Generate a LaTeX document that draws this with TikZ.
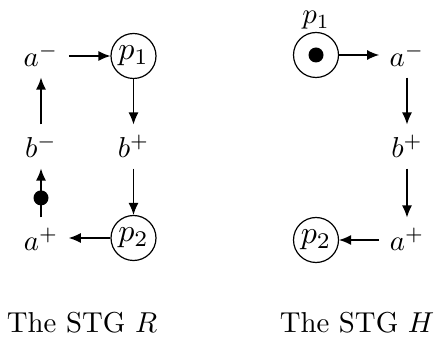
\documentclass[tikz,border=0pt]{standalone}
\usepackage{graphicx}
\usetikzlibrary{arrows.meta}

% 文字按 10pt 排，再整体放大（圆内的字更大一些）
\newcommand{\tx}[1]{\scalebox{2.88}{#1}}
\newcommand{\txp}[1]{\scalebox{3.2}{#1}}

\tikzset{
  trans/.style={inner sep=10pt, anchor=base},
  place/.style={draw, circle, minimum size=45pt, inner sep=0pt},
  token/.style={fill, circle, minimum size=15pt, inner sep=0pt},
  arc/.style={-{Latex[length=12pt,width=10pt]}},
}

\begin{document}
\begin{tikzpicture}[x=1pt, y=-1pt, line width=1.2pt]

  %% ════ 左图：STG R ════
  \node[trans] (Ram) at (41,67)    {\tx{$a^-$}};
  \node[place] (Rp1) at (133.5,56) {\txp{$p_1$}};
  \node[trans] (Rbm) at (41,158)   {\tx{$b^-$}};
  \node[trans] (Rbp) at (133.5,158) {\tx{$b^+$}};
  \node[trans] (Rap) at (41,251)   {\tx{$a^+$}};
  \node[place] (Rp2) at (133.5,238) {\txp{$p_2$}};

  \draw[arc] (Ram.east |- Rp1) -- (Rp1);
  \draw[arc] (Rp1) -- (Rbp);
  \draw[arc] (Rbp) -- (Rp2);
  \draw[arc] (Rp2) -- (Rap.east |- Rp2);
  \draw[arc] (Rap) -- node[token, pos=0.4] (Rtok) {} (Rbm);   % 弧上的 token
  \draw[arc] (Rbm) -- (Ram);

  %% ════ 右图：STG H ════
  \node[place, label={[inner sep=2pt]above:\tx{$p_1$}}] (Hp1) at (316,55) {};
  \node[token] (Htok) at (Hp1) {};
  \node[trans] (Ham) at (407,67)  {\tx{$a^-$}};
  \node[trans] (Hbp) at (407,158) {\tx{$b^+$}};
  \node[trans] (Hap) at (407,251) {\tx{$a^+$}};
  \node[place] (Hp2) at (316,240) {\txp{$p_2$}};

  \draw[arc] (Hp1) -- (Ham.west |- Hp1);
  \draw[arc] (Ham) -- (Hbp);
  \draw[arc] (Hbp) -- (Hap);
  \draw[arc] (Hap.west |- Hp2) -- (Hp2);

  %% ════ 标题 ════
  \node[anchor=base] (Rcap) at (82,332)  {\tx{The STG $R$}};
  \node[anchor=base] (Hcap) at (357,332) {\tx{The STG $H$}};

  % 钉死画布
  \pgfresetboundingbox
  \path[use as bounding box] (0,0) rectangle (441,344);
\end{tikzpicture}
\end{document}
